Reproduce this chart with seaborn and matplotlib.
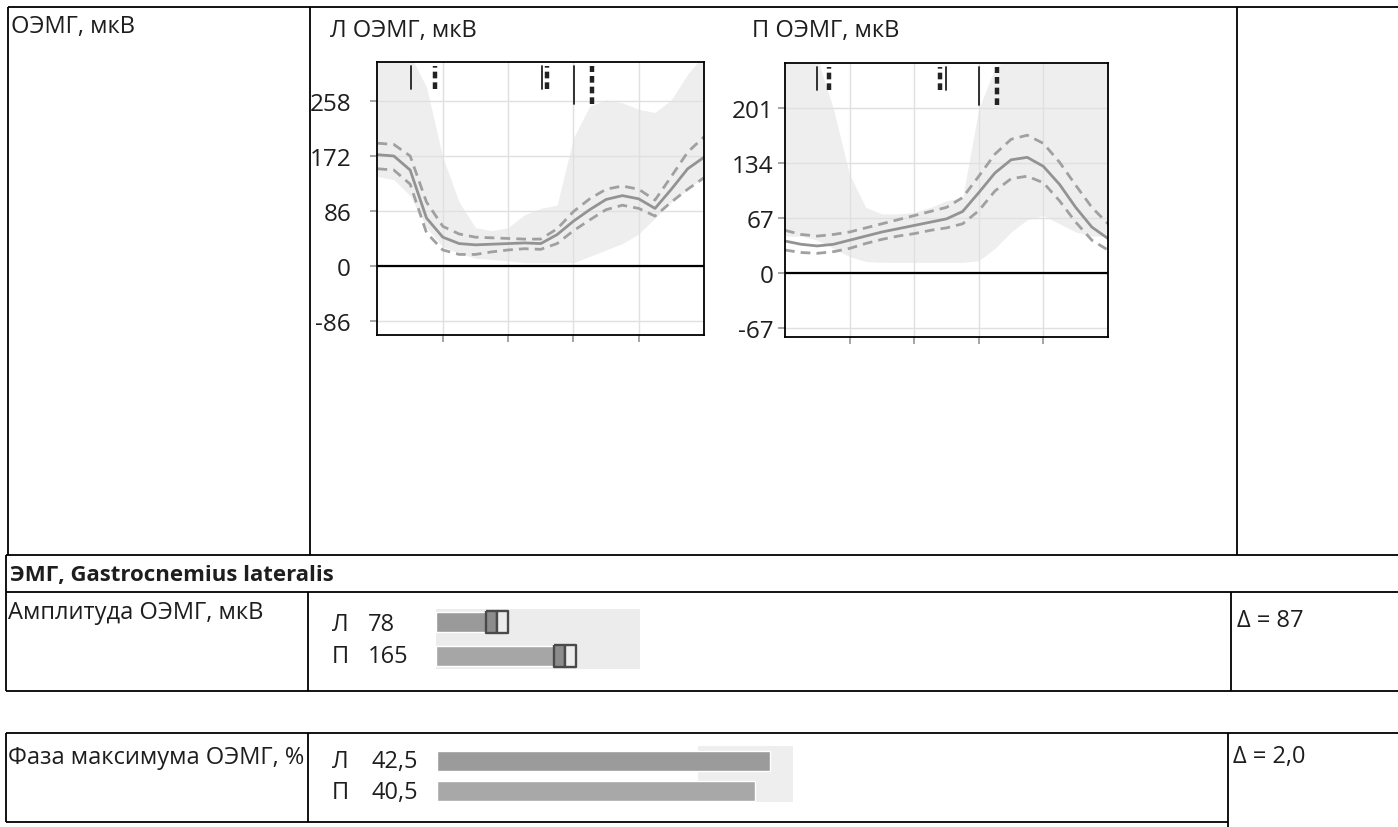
import matplotlib
matplotlib.use("Agg")
import matplotlib.pyplot as plt
from matplotlib.markers import MarkerStyle
import seaborn as sns

W, H = 1398, 828

# ---------------------------------------------------------------------------
# Data
# ---------------------------------------------------------------------------

CYCLE_PCT = [0, 5, 10, 15, 20, 25, 30, 35, 40, 45, 50, 55, 60, 65, 70, 75, 80, 85, 90, 95, 100]

# left leg, uV
L_MEAN = [174, 172, 150, 75, 45, 35, 33, 34, 35, 36, 35, 49, 70, 88, 104, 110, 105, 90, 120, 152, 170]
L_UPPER = [192, 190, 172, 100, 62, 50, 45, 44, 43, 42, 42, 58, 85, 105, 120, 125, 120, 103, 140, 178, 202]
L_LOWER = [152, 150, 128, 52, 25, 18, 18, 22, 25, 27, 26, 35, 55, 72, 88, 95, 90, 78, 100, 120, 138]
L_NORM_LO = [140, 135, 110, 60, 30, 20, 12, 10, 8, 5, 5, 5, 5, 15, 25, 35, 50, 75, 100, 120, 140]
L_NORM_HI = [330, 330, 330, 280, 170, 100, 60, 55, 60, 80, 90, 95, 200, 250, 260, 255, 245, 240, 260, 300, 330]
L_YTICKS = [-86, 0, 86, 172, 258]
L_YLIM = (-108, 319)
L_EVENTS_SOLID = [10.4, 50.3, 60.1]
L_EVENTS_DOTTED = [17.5, 52.0, 65.8]

# right leg, uV
R_MEAN = [39, 35, 33, 35, 40, 45, 50, 54, 58, 62, 66, 75, 98, 122, 138, 141, 130, 108, 80, 56, 42]
R_UPPER = [52, 47, 45, 47, 50, 55, 60, 65, 70, 75, 80, 92, 118, 145, 163, 168, 158, 135, 107, 80, 60]
R_LOWER = [28, 25, 24, 26, 30, 36, 41, 45, 48, 52, 55, 60, 76, 100, 115, 118, 110, 88, 62, 40, 28]
R_NORM_LO = [45, 45, 40, 30, 20, 14, 13, 13, 13, 13, 13, 13, 15, 30, 50, 65, 70, 60, 50, 45, 45]
R_NORM_HI = [270, 270, 262, 200, 120, 80, 72, 72, 74, 80, 88, 92, 200, 250, 265, 270, 270, 265, 260, 265, 270]
R_YTICKS = [-67, 0, 67, 134, 201]
R_YLIM = (-78, 256)
R_EVENTS_SOLID = [9.8, 50.0, 60.1]
R_EVENTS_DOTTED = [13.6, 48.1, 65.7]
EVENT_LONG = [False, False, True]

SIDES = ["Л", "П"]
AMP_VALUES = [78, 165]
AMP_RANGE = (0, 261)
PHASE_VALUES = [42.5, 40.5]
PHASE_NORM = (33.3, 45.4)

# ---------------------------------------------------------------------------
# Style
# ---------------------------------------------------------------------------

sns.set_theme(style="white")
plt.rcParams["font.family"] = ["Open Sans", "DejaVu Sans"]
TEXT = "#1e1e1e"
FS = 17


def box(l, t, r, b):
    return [l / W, 1 - b / H, (r - l) / W, (b - t) / H]


fig = plt.figure(figsize=(W / 100, H / 100), dpi=100)

# page layer: table lines and labels in pixel coordinates
page = fig.add_axes([0, 0, 1, 1], zorder=0)
page.set_xlim(0, W)
page.set_ylim(H, 0)
page.axis("off")

lw_tab = 1.3
for y, x0, x1 in [(8, 8, W), (556, 6, W), (593, 6, W), (692, 6, W), (734, 6, W), (823, 6, 1228)]:
    page.plot([x0, x1], [y, y], color="black", lw=lw_tab, solid_capstyle="butt")
for x, y0, y1 in [(8, 8, 556), (6, 556, 692), (6, 734, 823),
                  (310, 8, 556), (308, 593, 692), (308, 734, 823),
                  (1237, 8, 556), (1231, 593, 692), (1228, 734, H)]:
    page.plot([x, x], [y0, y1], color="black", lw=lw_tab, solid_capstyle="butt")

page.text(11, 27, "ОЭМГ, мкВ", fontsize=FS, color=TEXT, va="center")
page.text(330, 31, "Л ОЭМГ, мкВ", fontsize=FS, color=TEXT, va="center")
page.text(752, 31, "П ОЭМГ, мкВ", fontsize=FS, color=TEXT, va="center")
page.text(10, 576, "ЭМГ, Gastrocnemius lateralis", fontsize=16, fontweight="bold", color=TEXT, va="center")
page.text(8, 613, "Амплитуда ОЭМГ, мкВ", fontsize=FS, color=TEXT, va="center")
page.text(8, 758, "Фаза максимума ОЭМГ, %", fontsize=FS, color=TEXT, va="center")
page.text(1237, 621, f"Δ = {abs(AMP_VALUES[1] - AMP_VALUES[0]):.0f}", fontsize=FS, color=TEXT, va="center")
page.text(1233, 757, f"Δ = {abs(PHASE_VALUES[0] - PHASE_VALUES[1]):.1f}".replace(".", ","),
          fontsize=FS, color=TEXT, va="center")

for side, val, y in zip(SIDES, AMP_VALUES, [625, 657]):
    page.text(332, y, side, fontsize=FS, color=TEXT, va="center")
    page.text(368, y, f"{val}", fontsize=FS, color=TEXT, va="center")
for side, val, y in zip(SIDES, PHASE_VALUES, [762, 793]):
    page.text(332, y, side, fontsize=FS, color=TEXT, va="center")
    page.text(372, y, f"{val:.1f}".replace(".", ","), fontsize=FS, color=TEXT, va="center")


# ---------------------------------------------------------------------------
# EMG envelope plots
# ---------------------------------------------------------------------------

def envelope(ax, mean, upper, lower, lo, hi, yticks, ylim, ev_solid, ev_dotted, pad):
    ax.fill_between(CYCLE_PCT, lo, hi, color="#eeeeee", lw=0, zorder=0.2)
    sns.lineplot(x=CYCLE_PCT, y=mean, ax=ax, color="#939393", lw=2.0, zorder=2)
    for band in (upper, lower):
        sns.lineplot(x=CYCLE_PCT, y=band, ax=ax, color="#a0a0a0", lw=2.0,
                     linestyle=(0, (3.5, 2.2)), zorder=2)
    ax.axhline(0, color="black", lw=1.6, zorder=3)
    for x, long in zip(ev_solid, EVENT_LONG):
        ax.axvline(x, ymin=0.845 if long else 0.9, ymax=0.985, color="#222", lw=1.3, zorder=4)
    for x, long in zip(ev_dotted, EVENT_LONG):
        ax.axvline(x, ymin=0.845 if long else 0.9, ymax=0.985, color="#222", lw=3.2,
                   linestyle=(0, (1.5, 0.9)), zorder=4)
    ax.set_xlim(0, 100)
    ax.set_ylim(*ylim)
    ax.set_xticks([20, 40, 60, 80])
    ax.set_xticklabels([])
    ax.set_yticks(yticks)
    ax.set_yticklabels([str(t) for t in yticks])
    ax.grid(True, color="#e0e0e0", lw=1.0)
    ax.set_axisbelow(True)
    ax.tick_params(axis="y", length=5, color="#9a9a9a", labelsize=17.5, labelcolor=TEXT, pad=pad, left=True)
    ax.tick_params(axis="x", length=5, color="#9a9a9a", bottom=True, direction="out")
    for s in ax.spines.values():
        s.set_color("black")
        s.set_linewidth(1.3)
    ax.set_facecolor("white")


axL = fig.add_axes(box(377.5, 63, 704, 336), zorder=2)
envelope(axL, L_MEAN, L_UPPER, L_LOWER, L_NORM_LO, L_NORM_HI, L_YTICKS, L_YLIM,
         L_EVENTS_SOLID, L_EVENTS_DOTTED, pad=14)

axR = fig.add_axes(box(785, 64, 1108, 338), zorder=2)
envelope(axR, R_MEAN, R_UPPER, R_LOWER, R_NORM_LO, R_NORM_HI, R_YTICKS, R_YLIM,
         R_EVENTS_SOLID, R_EVENTS_DOTTED, pad=3)


# ---------------------------------------------------------------------------
# Amplitude and phase bars
# ---------------------------------------------------------------------------

def clean(ax):
    ax.set_xticks([])
    ax.set_yticks([])
    ax.set_xlabel("")
    ax.set_ylabel("")
    for s in ax.spines.values():
        s.set_visible(False)


axA = fig.add_axes(box(436, 610, 640, 670), zorder=2)
axA.set_facecolor("#ececec")
sns.barplot(x=AMP_VALUES, y=SIDES, hue=SIDES, palette=["#9a9a9a", "#a6a6a6"], orient="h",
            width=0.6, legend=False, ax=axA, saturation=1)
axA.plot(AMP_VALUES, range(len(SIDES)), ls="none",
         marker=MarkerStyle("s", fillstyle="left", joinstyle="round"),
         mfc="#8c8c8c", markerfacecoloralt="#ededed", mec="#4a4a4a", ms=16, mew=1.7, zorder=5)
axA.set_xlim(*AMP_RANGE)
clean(axA)

axP = fig.add_axes(box(437, 747, 793, 807), zorder=2)
axP.set_facecolor("white")
axP.axvspan(*PHASE_NORM, ymin=0.07, ymax=1.0, color="#eeeeee", lw=0, zorder=0)
sns.barplot(x=PHASE_VALUES, y=SIDES, hue=SIDES, palette=["#9b9b9b", "#a8a8a8"], orient="h",
            width=0.67, legend=False, ax=axP, saturation=1)
axP.set_xlim(0, PHASE_NORM[1])
clean(axP)

fig.savefig("out.png", dpi=100)
